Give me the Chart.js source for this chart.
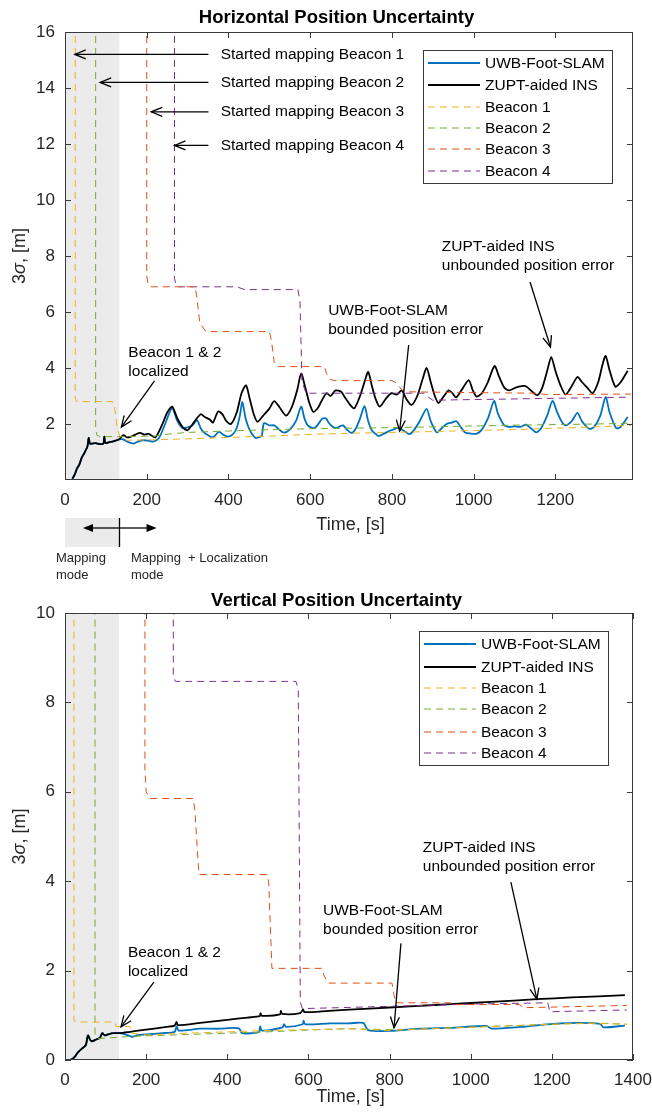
<!DOCTYPE html>
<html>
<head>
<meta charset="utf-8">
<script src="https://cdn.jsdelivr.net/npm/chart.js@4"></script>
<style>
  html, body { margin: 0; padding: 0; background: #fff; }
  .box { position: absolute; left: 0; width: 652px; }
</style>
</head>
<body>
<div class="box" style="top:0;height:590px"><canvas id="hChart" width="652" height="590"></canvas></div>
<div class="box" style="top:580px;height:539px"><canvas id="vChart" width="652" height="539"></canvas></div>
<script>
// ---- Tick labels ----
const hTimeTicks = [0, 200, 400, 600, 800, 1000, 1200];
const vTimeTicks = [0, 200, 400, 600, 800, 1000, 1200, 1400];
const hSigmaTicks = [2, 4, 6, 8, 10, 12, 14, 16];
const vSigmaTicks = [0, 2, 4, 6, 8, 10];

// ---- Horizontal data ----
const hEarlyT = [18, 24, 29, 35, 41, 47, 52, 55, 58, 61, 66, 75, 85, 94, 96, 99, 108, 118, 126, 132];
const hEarlyV = [0.05, 0.2, 0.4, 0.55, 0.8, 0.95, 1.1, 1.2, 1.5, 1.3, 1.3, 1.32, 1.28, 1.3, 1.55, 1.32, 1.35, 1.38, 1.42, 1.45];

const hInsT = [143, 152, 162, 172, 184, 195, 205, 221, 237, 250, 262, 275, 290, 300, 315, 332, 342, 355, 362, 375, 385, 395, 406, 420, 432, 443, 452, 462, 471, 485, 500, 512, 525, 541, 555, 568, 578, 588, 598, 608, 620, 627, 640, 650, 662, 676, 685, 697, 708, 722, 735, 742, 752, 760, 770, 785, 799, 812, 824, 835, 848, 862, 875, 885, 895, 905, 914, 925, 939, 948, 957, 970, 988, 998, 1007, 1020, 1035, 1045, 1052, 1062, 1075, 1087, 1103, 1118, 1128, 1140, 1156, 1168, 1180, 1190, 1200, 1212, 1225, 1238, 1254, 1265, 1278, 1291, 1305, 1315, 1323, 1333, 1347, 1360, 1377];
const hInsV = [1.6, 1.52, 1.55, 1.62, 1.68, 1.62, 1.65, 1.52, 1.95, 2.4, 2.62, 2.2, 1.85, 1.78, 2.05, 2.35, 2.25, 2.15, 2.05, 2.45, 2.35, 2.1, 2.0, 2.4, 3.1, 3.38, 2.9, 2.35, 2.08, 2.3, 2.55, 2.82, 2.6, 2.3, 2.6, 3.2, 3.8, 3.3, 2.75, 2.43, 2.6, 2.8, 3.1, 3.0, 3.2, 3.15, 2.95, 2.7, 2.56, 3.0, 3.6, 3.86, 3.3, 2.9, 2.62, 2.9, 3.1, 3.05, 3.2, 2.9, 2.68, 3.0, 3.6, 4.0, 3.5, 3.0, 2.75, 2.95, 3.2, 3.1, 2.95, 3.2, 3.57, 3.2, 2.98, 3.1, 3.5, 3.9, 4.07, 3.7, 3.3, 3.2, 3.3, 3.35, 3.35, 3.2, 3.03, 3.3, 3.9, 4.39, 3.9, 3.4, 3.05, 3.3, 3.68, 3.5, 3.3, 3.1, 3.5, 4.1, 4.43, 3.9, 3.33, 3.5, 3.9];

const hSlamT = [142, 155, 168, 180, 192, 205, 216, 230, 245, 262, 275, 287, 300, 312, 323, 332, 340, 350, 360, 368, 377, 387, 397, 410, 420, 428, 434, 442, 451, 460, 467, 478, 482, 487, 500, 512, 524, 536, 550, 565, 578, 586, 594, 610, 620, 630, 639, 644, 655, 665, 673, 681, 690, 701, 712, 722, 733, 742, 751, 760, 767, 780, 795, 806, 816, 830, 843, 855, 868, 885, 895, 910, 922, 934, 946, 958, 968, 979, 993, 1007, 1020, 1035, 1050, 1060, 1075, 1088, 1100, 1115, 1128, 1140, 1153, 1165, 1180, 1193, 1205, 1215, 1225, 1240, 1254, 1265, 1283, 1295, 1310, 1323, 1333, 1349, 1360, 1377];
const hSlamV = [1.45, 1.35, 1.3, 1.38, 1.42, 1.4, 1.37, 1.5, 2.0, 2.57, 2.1, 1.86, 1.88, 1.95, 2.14, 1.85, 1.7, 1.6, 1.52, 1.6, 1.73, 1.62, 1.55, 1.62, 1.85, 2.3, 2.78, 2.2, 1.82, 1.6, 1.5, 1.55, 1.6, 2.03, 1.95, 1.95, 1.8, 1.69, 1.8, 2.1, 2.62, 2.2, 1.95, 1.85, 2.0, 2.2, 2.2, 2.07, 1.9, 1.85, 1.92, 1.95, 1.8, 1.68, 1.85, 2.2, 2.64, 2.1, 1.77, 1.65, 1.57, 1.65, 1.76, 1.82, 1.87, 1.75, 1.64, 1.8, 2.1, 2.54, 2.1, 1.7, 1.85, 2.0, 2.05, 2.1, 1.9, 1.7, 1.66, 1.65, 1.8, 2.2, 2.82, 2.35, 1.95, 1.9, 1.92, 1.9, 1.98, 1.85, 1.7, 1.85, 2.3, 2.83, 2.4, 2.1, 1.95, 2.1, 2.4, 2.1, 1.83, 1.9, 2.3, 2.96, 2.4, 1.85, 1.9, 2.25];

const hB1T = [25, 25, 28, 115, 120, 124, 128, 135, 150, 200, 300, 400, 500, 600, 700, 800, 900, 1000, 1100, 1200, 1300, 1385];
const hB1V = [30, 2.95, 2.8, 2.8, 2.75, 2.3, 1.8, 1.55, 1.42, 1.43, 1.47, 1.52, 1.57, 1.63, 1.67, 1.7, 1.73, 1.77, 1.8, 1.85, 1.9, 1.95];
const hB2T = [75, 75, 78, 85, 150, 220, 260, 300, 400, 500, 600, 700, 800, 900, 1000, 1100, 1200, 1300, 1385];
const hB2V = [30, 1.8, 1.6, 1.55, 1.55, 1.57, 1.65, 1.7, 1.75, 1.8, 1.83, 1.85, 1.87, 1.9, 1.93, 1.96, 1.98, 2.0, 2.03];
const hB3T = [200, 200, 203, 210, 318, 322, 330, 345, 500, 505, 512, 520, 635, 640, 648, 660, 800, 812, 825, 840, 1000, 1150, 1180, 1385];
const hB3V = [30, 7.3, 7.0, 6.9, 6.9, 6.6, 5.6, 5.3, 5.3, 5.0, 4.2, 4.05, 4.05, 3.8, 3.6, 3.55, 3.55, 3.45, 3.2, 3.15, 3.12, 3.1, 3.05, 3.07];
const hB4T = [268, 268, 272, 280, 420, 440, 570, 575, 580, 590, 880, 890, 900, 1385];
const hB4V = [30, 7.2, 6.95, 6.9, 6.9, 6.8, 6.8, 6.4, 3.5, 3.1, 3.1, 2.95, 2.85, 2.96];

// ---- Vertical data ----
const vEarlyT = [10, 18, 25, 30, 35, 41, 48, 52, 55, 57, 62, 66, 75, 86, 92, 98, 108, 120, 135];
const vEarlyV = [0.0, 0.02, 0.08, 0.15, 0.2, 0.25, 0.3, 0.35, 0.5, 0.55, 0.45, 0.42, 0.45, 0.5, 0.6, 0.55, 0.58, 0.6, 0.6];

const vInsT = [160, 200, 250, 270, 275, 278, 333, 400, 450, 480, 482, 485, 530, 532, 535, 580, 587, 590, 650, 750, 850, 950, 1050, 1163, 1250, 1380];
const vInsV = [0.63, 0.68, 0.74, 0.77, 0.85, 0.78, 0.83, 0.9, 0.95, 0.98, 1.05, 0.99, 1.02, 1.1, 1.03, 1.05, 1.13, 1.07, 1.1, 1.15, 1.2, 1.25, 1.3, 1.36, 1.4, 1.45];
const vSlamT = [150, 165, 180, 200, 240, 270, 275, 280, 333, 380, 415, 430, 436, 460, 478, 481, 485, 536, 540, 545, 586, 588, 592, 653, 700, 735, 747, 801, 875, 950, 1040, 1052, 1122, 1220, 1319, 1327, 1380];
const vSlamV = [0.57, 0.52, 0.56, 0.57, 0.6, 0.63, 0.75, 0.66, 0.7, 0.7, 0.72, 0.7, 0.6, 0.6, 0.63, 0.75, 0.66, 0.73, 0.8, 0.74, 0.8, 0.88, 0.8, 0.82, 0.82, 0.83, 0.67, 0.65, 0.7, 0.72, 0.76, 0.7, 0.74, 0.82, 0.81, 0.73, 0.77];

const vB1T = [22, 22, 25, 123, 126, 160, 165, 200, 300, 400, 500, 600, 700, 800, 900, 1000, 1100, 1200, 1300, 1385];
const vB1V = [12, 0.9, 0.85, 0.85, 0.75, 0.75, 0.6, 0.56, 0.6, 0.63, 0.66, 0.68, 0.7, 0.66, 0.7, 0.73, 0.76, 0.8, 0.82, 0.8];
const vB2T = [74, 74, 77, 85, 150, 200, 300, 400, 500, 600, 700, 800, 900, 1000, 1100, 1200, 1300, 1385];
const vB2V = [12, 0.6, 0.5, 0.48, 0.52, 0.54, 0.57, 0.6, 0.63, 0.67, 0.7, 0.68, 0.7, 0.74, 0.77, 0.8, 0.83, 0.8];
const vB3T = [197, 197, 200, 210, 316, 320, 330, 497, 502, 510, 633, 638, 648, 806, 810, 815, 950, 955, 1120, 1130, 1385];
const vB3V = [12, 6.5, 6.0, 5.85, 5.85, 5.6, 4.15, 4.15, 4.0, 2.05, 2.05, 1.9, 1.72, 1.72, 1.5, 1.28, 1.28, 1.24, 1.24, 1.17, 1.22];
const vB4T = [267, 267, 272, 569, 575, 580, 585, 800, 1000, 1190, 1195, 1385];
const vB4V = [12, 8.6, 8.47, 8.47, 8.3, 1.3, 1.15, 1.2, 1.25, 1.28, 1.08, 1.12];

const seriesNames = ['UWB-Foot-SLAM', 'ZUPT-aided INS', 'Beacon 1', 'Beacon 2', 'Beacon 3', 'Beacon 4'];
const seriesColors = ['#0072BD', '#000000', '#EDB120', '#77AC30', '#D95319', '#7E2F8E'];

const FONT = '"Liberation Sans", Arial, sans-serif';
const pts = (ts, vs) => ts.map((t, i) => ({ x: t, y: vs[i] }));

function makeDatasets(slam, ins, beacons) {
    const ds = [
        { label: seriesNames[0], data: slam, borderColor: seriesColors[0], borderWidth: 1.8, tension: 0.25 },
        { label: seriesNames[1], data: ins, borderColor: seriesColors[1], borderWidth: 1.8, tension: 0.25 }
    ];
    beacons.forEach((b, i) => ds.push({
        label: seriesNames[i + 2], data: b, borderColor: seriesColors[i + 2],
        borderWidth: 1, borderDash: [7, 5], tension: 0
    }));
    ds.forEach(d => { d.pointRadius = 0; d.fill = false; });
    // draw beacons on top of the solid lines
    ds.forEach((d, i) => { d.order = i < 2 ? 10 - i : 1; });
    return ds;
}

function arrow(ctx, x1, y1, x2, y2, filled) {
    const ang = Math.atan2(y2 - y1, x2 - x1);
    const len = filled ? 10 : 11, hw = filled ? 4 : 4.5;
    ctx.beginPath();
    ctx.moveTo(x1, y1);
    ctx.lineTo(filled ? x2 - Math.cos(ang) * len * 0.8 : x2, filled ? y2 - Math.sin(ang) * len * 0.8 : y2);
    ctx.stroke();
    const bx = x2 - Math.cos(ang) * len, by = y2 - Math.sin(ang) * len;
    const nx = -Math.sin(ang) * hw, ny = Math.cos(ang) * hw;
    ctx.beginPath();
    ctx.moveTo(bx + nx, by + ny);
    ctx.lineTo(x2, y2);
    ctx.lineTo(bx - nx, by - ny);
    if (filled) { ctx.closePath(); ctx.fill(); } else ctx.stroke();
}

// Shaded mapping region, axes box, inward ticks, texts, legend
const decor = {
    id: 'decor',
    beforeDatasetsDraw(chart, args, o) {
        const { ctx, chartArea: a, scales: { x } } = chart;
        const x0 = x.getPixelForValue(0), x1 = x.getPixelForValue(o.shadeTo);
        ctx.save();
        ctx.fillStyle = '#ebebeb';
        ctx.fillRect(x0, a.top, x1 - x0, a.bottom - a.top);
        ctx.restore();
    },
    afterDraw(chart, args, o) {
        const { ctx, chartArea: a, scales: { x, y } } = chart;
        ctx.save();
        // box + ticks
        ctx.strokeStyle = '#3a3a3a';
        ctx.lineWidth = 1;
        ctx.strokeRect(a.left + 0.5, a.top + 0.5, a.right - a.left - 1, a.bottom - a.top - 1);
        ctx.beginPath();
        x.ticks.forEach(t => {
            const px = Math.round(x.getPixelForValue(t.value)) + 0.5;
            ctx.moveTo(px, a.bottom); ctx.lineTo(px, a.bottom - 6);
            ctx.moveTo(px, a.top); ctx.lineTo(px, a.top + 6);
        });
        y.ticks.forEach(t => {
            const py = Math.round(y.getPixelForValue(t.value)) + 0.5;
            ctx.moveTo(a.left, py); ctx.lineTo(a.left + 6, py);
            ctx.moveTo(a.right, py); ctx.lineTo(a.right - 6, py);
        });
        ctx.stroke();

        // title
        const cx = (a.left + a.right) / 2 - 12.5;
        ctx.fillStyle = '#000';
        ctx.font = `bold 18.5px ${FONT}`;
        ctx.textAlign = 'center';
        ctx.textBaseline = 'alphabetic';
        ctx.fillText(o.title, cx, o.titleY);

        // x axis title
        ctx.fillStyle = '#262626';
        ctx.font = `18px ${FONT}`;
        ctx.textBaseline = 'middle';
        ctx.fillText('Time, [s]', cx + 14, a.bottom + o.xTitleGap);

        // y axis title: 3σ, [m]
        ctx.save();
        ctx.translate(20, (a.top + a.bottom) / 2);
        ctx.rotate(-Math.PI / 2);
        const parts = [['3', `18px ${FONT}`], ['σ', `italic 18px ${FONT}`], [', [m]', `18px ${FONT}`]];
        let w = 0;
        parts.forEach(p => { ctx.font = p[1]; w += ctx.measureText(p[0]).width; });
        let px = -w / 2;
        ctx.textAlign = 'left';
        parts.forEach(p => { ctx.font = p[1]; ctx.fillText(p[0], px, 0); px += ctx.measureText(p[0]).width; });
        ctx.restore();

        // annotations
        ctx.fillStyle = '#000';
        ctx.strokeStyle = '#000';
        ctx.lineWidth = 1.3;
        ctx.font = `15.5px ${FONT}`;
        ctx.textAlign = 'left';
        ctx.textBaseline = 'middle';
        o.notes.forEach(n => {
            n.lines.forEach((ln, i) => ctx.fillText(ln, x.getPixelForValue(n.tx), y.getPixelForValue(n.ty) + i * 19));
            arrow(ctx, x.getPixelForValue(n.ax[0]), y.getPixelForValue(n.ax[1]),
                x.getPixelForValue(n.ax[2]), y.getPixelForValue(n.ax[3]), false);
        });

        // legend
        const L = o.legend;
        const lx = a.right - L.right - L.width, ly = a.top + L.top;
        ctx.fillStyle = '#fff';
        ctx.fillRect(lx, ly, L.width, L.height);
        ctx.strokeStyle = '#3a3a3a';
        ctx.lineWidth = 1;
        ctx.strokeRect(lx + 0.5, ly + 0.5, L.width, L.height);
        ctx.font = `15.5px ${FONT}`;
        chart.data.datasets.forEach((d, i) => {
            const ry = ly + L.rows[i];
            ctx.strokeStyle = d.borderColor;
            ctx.lineWidth = d.borderWidth;
            ctx.setLineDash(d.borderDash || []);
            ctx.beginPath();
            ctx.moveTo(lx + 5, ry); ctx.lineTo(lx + 57, ry);
            ctx.stroke();
            ctx.setLineDash([]);
            ctx.fillStyle = '#000';
            ctx.fillText(d.label, lx + 62, ry + 1);
        });

        // mapping mode diagram
        if (o.modes) {
            const x0 = x.getPixelForValue(0), x1 = Math.round(x.getPixelForValue(o.shadeTo)) + 0.5;
            const top = a.bottom + 38, bot = a.bottom + 67, ay = a.bottom + 48;
            ctx.fillStyle = '#ebebeb';
            ctx.fillRect(x0, top, x1 - x0, bot - top);
            ctx.strokeStyle = '#000';
            ctx.fillStyle = '#000';
            ctx.lineWidth = 1.3;
            ctx.beginPath(); ctx.moveTo(x1, top); ctx.lineTo(x1, bot); ctx.stroke();
            arrow(ctx, x1, ay, x.getPixelForValue(44), ay, true);
            arrow(ctx, x1, ay, x.getPixelForValue(224), ay, true);
            ctx.font = `13px ${FONT}`;
            ctx.fillStyle = '#262626';
            ctx.fillText('Mapping', 56, a.bottom + 78);
            ctx.fillText('mode', 56, a.bottom + 95);
            ctx.fillText('Mapping', 131, a.bottom + 78);
            ctx.fillText('+ Localization', 188, a.bottom + 78);
            ctx.fillText('mode', 131, a.bottom + 95);
        }
        ctx.restore();
    }
};

function makeChart(id, datasets, yMax, xMax, xTicks, yTicks, pad, deco) {
    return new Chart(document.getElementById(id), {
        type: 'line',
        data: { datasets },
        options: {
            responsive: false,
            animation: false,
            devicePixelRatio: 1,
            layout: { padding: pad },
            scales: {
                x: {
                    type: 'linear', min: 0, max: xMax,
                    grid: { display: false, drawTicks: false }, border: { display: false },
                    afterFit: s => { s.height = 30; s.paddingLeft = 0; s.paddingRight = 0; },
                    afterBuildTicks: s => { s.ticks = xTicks.map(v => ({ value: v })); },
                    ticks: {
                        autoSkip: false, maxRotation: 0,
                        padding: 10, color: '#262626', font: { family: FONT, size: 17 },
                        callback: v => String(v)
                    }
                },
                y: {
                    min: 0, max: yMax,
                    grid: { display: false, drawTicks: false }, border: { display: false },
                    afterFit: s => { s.width = 65; s.paddingTop = 0; s.paddingBottom = 0; },
                    afterBuildTicks: s => { s.ticks = yTicks.map(v => ({ value: v })); },
                    ticks: {
                        autoSkip: false, padding: 10, color: '#262626', font: { family: FONT, size: 17 },
                        callback: v => String(v)
                    }
                }
            },
            plugins: { legend: { display: false }, tooltip: { enabled: false }, decor: deco }
        },
        plugins: [decor]
    });
}

makeChart('hChart',
    makeDatasets(pts(hEarlyT.concat(hSlamT), hEarlyV.concat(hSlamV)),
        pts(hEarlyT.concat(hInsT), hEarlyV.concat(hInsV)),
        [pts(hB1T, hB1V), pts(hB2T, hB2V), pts(hB3T, hB3V), pts(hB4T, hB4V)]),
    16, 1390, hTimeTicks, hSigmaTicks, { top: 32, right: 19, bottom: 80, left: 0 },
    {
        title: 'Horizontal Position Uncertainty', titleY: 23, xTitleGap: 45, shadeTo: 133, modes: true,
        legend: { right: 21, top: 18, width: 189, height: 133, rows: [13, 35, 57, 78, 99, 121] },
        notes: [
            { lines: ['Started mapping Beacon 1'], tx: 381, ty: 15.2, ax: [351, 15.2, 24, 15.2] },
            { lines: ['Started mapping Beacon 2'], tx: 381, ty: 14.2, ax: [351, 14.2, 86, 14.2] },
            { lines: ['Started mapping Beacon 3'], tx: 381, ty: 13.15, ax: [351, 13.15, 211, 13.15] },
            { lines: ['Started mapping Beacon 4'], tx: 381, ty: 11.95, ax: [351, 11.95, 268, 11.95] },
            { lines: ['Beacon 1 & 2', 'localized'], tx: 155, ty: 4.54, ax: [219, 3.54, 138, 1.89] },
            { lines: ['UWB-Foot-SLAM', 'bounded position error'], tx: 644, ty: 6.04, ax: [841, 4.82, 819, 1.75] },
            { lines: ['ZUPT-aided INS', 'unbounded position error'], tx: 922, ty: 8.32, ax: [1138, 7.07, 1188, 4.75] }
        ]
    });

makeChart('vChart',
    makeDatasets(pts(vEarlyT.concat(vSlamT), vEarlyV.concat(vSlamV)),
        pts(vEarlyT.concat(vInsT), vEarlyV.concat(vInsV)),
        [pts(vB1T, vB1V), pts(vB2T, vB2V), pts(vB3T, vB3V), pts(vB4T, vB4V)]),
    10, 1400, vTimeTicks, vSigmaTicks, { top: 33, right: 19, bottom: 29, left: 0 },
    {
        title: 'Vertical Position Uncertainty', titleY: 26, xTitleGap: 37, shadeTo: 133, modes: false,
        legend: { right: 25, top: 18, width: 189, height: 134, rows: [13, 36, 57, 78, 101, 122] },
        notes: [
            { lines: ['Beacon 1 & 2', 'localized'], tx: 155, ty: 2.39, ax: [219, 1.74, 138, 0.74] },
            { lines: ['UWB-Foot-SLAM', 'bounded position error'], tx: 636, ty: 3.35, ax: [828, 2.61, 811, 0.72] },
            { lines: ['ZUPT-aided INS', 'unbounded position error'], tx: 882, ty: 4.76, ax: [1099, 3.98, 1163, 1.36] }
        ]
    });
</script>
</body>
</html>
